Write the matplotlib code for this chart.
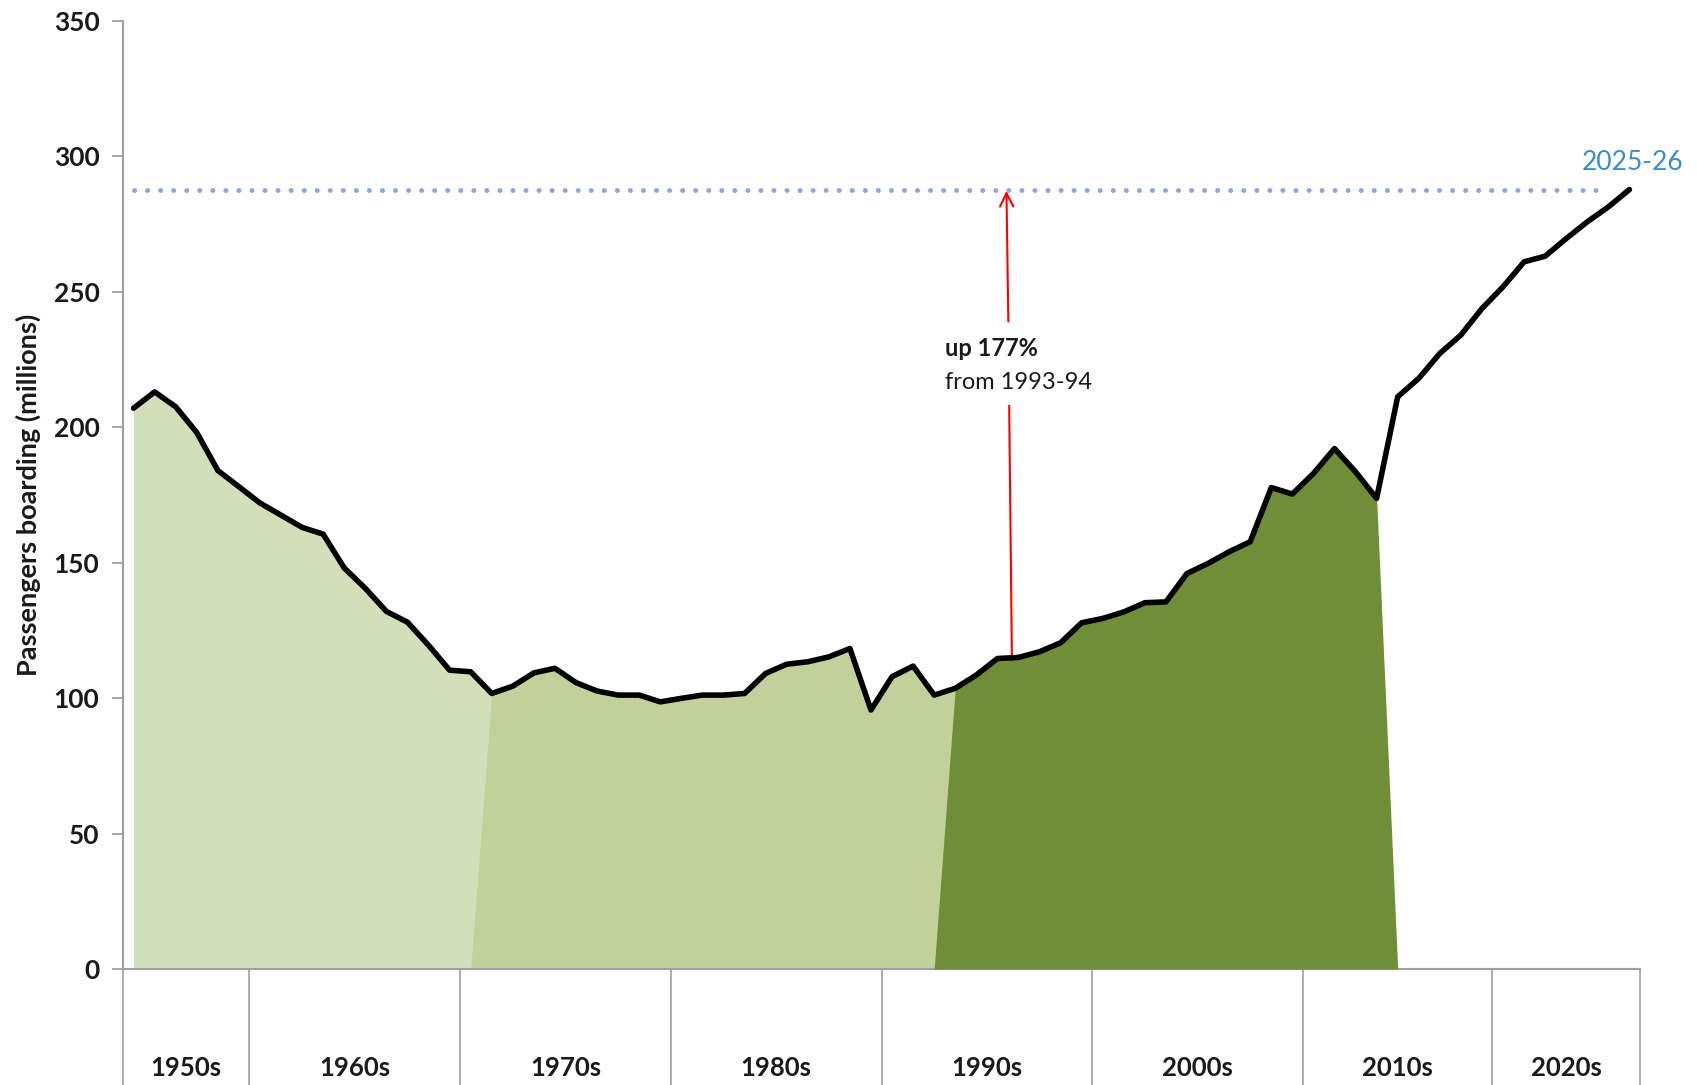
import numpy as np
import matplotlib
matplotlib.use("Agg")
import matplotlib.pyplot as plt
from matplotlib.transforms import blended_transform_factory

# ---------------- data ----------------
passengers = [207, 213, 207.5, 198, 184, 178, 172, 167.5, 163, 160.5,
              148, 140.5, 132, 128, 119.5, 110.3, 109.7, 101.7, 104.4, 109.3,
              111, 105.7, 102.6, 101.1, 101.1, 98.6, 99.9, 101.1, 101.1, 101.7,
              109.1, 112.5, 113.4, 115.2, 118.3, 95.6, 107.9, 111.8, 101.1, 103.6,
              108.5, 114.6, 115, 117.1, 120.4, 127.8, 129.4, 131.8, 135.2, 135.5,
              146, 149.7, 154, 157.7, 177.7, 175.3, 182.9, 192.1, 183.5, 173.7,
              211.2, 218, 227.2, 234, 243.8, 251.8, 261, 263.1, 269.6, 275.8,
              281.3, 287.7]
decades = ["1950s", "1960s", "1970s", "1980s", "1990s", "2000s", "2010s", "2020s"]
decade_counts = [6, 10, 10, 10, 10, 10, 9, 7]
yticks = [0, 50, 100, 150, 200, 250, 300, 350]
target_label = "2025-26"
note_bold = "up 177%"
note_regular = "from 1993-94"

# era shading: (first index, last index) for each shaded series
era_ranges = [(0, 17), (16, 39), (38, 60)]
era_colors = ["#D1E0B9", "#C2D09A", "#6F8E37"]

# ---------------- figure ----------------
plt.rcParams['font.family'] = ['Lato', 'DejaVu Sans']
fig = plt.figure(figsize=(16.97, 10.85), dpi=100)
ax = fig.add_axes([0.0725, 0.1069, 0.8939, 0.874])

v = np.array(passengers, dtype=float)
x = np.arange(len(v))

# light era: plain area
s, e = era_ranges[0]
ax.fill_between(x[s:e + 1], v[s:e + 1], 0, color=era_colors[0], lw=0, zorder=1)
# middle era: starts from zero at its first index
s, e = era_ranges[1]
ym = v[s:e + 1].copy(); ym[0] = 0
ax.fill_between(x[s:e + 1], ym, 0, color=era_colors[1], lw=0, zorder=2)
# dark era: starts from zero and drops to zero at its last index
s, e = era_ranges[2]
yd = v[s:e + 1].copy(); yd[0] = 0; yd[-1] = 0
ax.fill_between(x[s:e + 1], yd, 0, color=era_colors[2], lw=0, zorder=3)

# target dotted line
ax.plot([x[0], x[-2]], [v[-1], v[-1]], color="#8EA8DA", lw=3.6,
        linestyle=(0, (0.01, 2.6)), dash_capstyle='round', zorder=4)

# main line
ax.plot(x, v, color="black", lw=4.0, solid_joinstyle='round',
        solid_capstyle='round', zorder=6)

# red arrow (split around the annotation text)
ax.plot([41.69, 41.56], [114, 207.8], color="red", lw=1.5, zorder=5)
ax.annotate("", xy=(41.43, v[-1] - 0.5), xytext=(41.52, 239),
            arrowprops=dict(arrowstyle="->", color="red", lw=1.5,
                            mutation_scale=24, shrinkA=0, shrinkB=0), zorder=5)
ax.text(38.5, 229, note_bold, fontsize=17, fontweight='bold', color="#1a1a1a",
        ha='left', va='center', zorder=7)
ax.text(38.5, 216.6, note_regular, fontsize=17, color="#1a1a1a",
        ha='left', va='center', zorder=7)

ax.text(71.17, 297.8, target_label, fontsize=19, color="#3A8BD0",
        ha='center', va='center', zorder=7)

# axes styling
ax.set_xlim(-0.5, len(v) - 0.5)
ax.set_ylim(0, 350)
ax.set_yticks(yticks)
ax.set_yticklabels([str(t) for t in yticks], fontsize=19, fontweight='bold',
                   color="#1a1a1a")
ax.tick_params(axis='y', length=8, width=1.3, color="#A0A0A0", pad=9)
ax.tick_params(axis='x', length=0, labelbottom=False)
for side in ['top', 'right']:
    ax.spines[side].set_visible(False)
for side in ['left', 'bottom']:
    ax.spines[side].set_color("#A0A0A0")
    ax.spines[side].set_linewidth(1.5)

ax.set_ylabel("Passengers boarding (millions)", fontsize=19.5, fontweight='bold',
              color="#1a1a1a")
ax.yaxis.set_label_coords(-0.054, 0.5)

# decade category separators and labels
trans = blended_transform_factory(ax.transData, ax.transAxes)
bounds = np.concatenate([[0], np.cumsum(decade_counts)]) - 0.5
for b in bounds:
    ax.plot([b, b], [0, -0.125], transform=trans, color="#A0A0A0", lw=1.2,
            clip_on=False, zorder=1)
for i, lab in enumerate(decades):
    cx = (bounds[i] + bounds[i + 1]) / 2
    ax.text(cx, -0.1044, lab, transform=trans, fontsize=18.5, fontweight='bold',
            color="#1a1a1a", ha='center', va='center')

fig.savefig("out.png", dpi=100)
